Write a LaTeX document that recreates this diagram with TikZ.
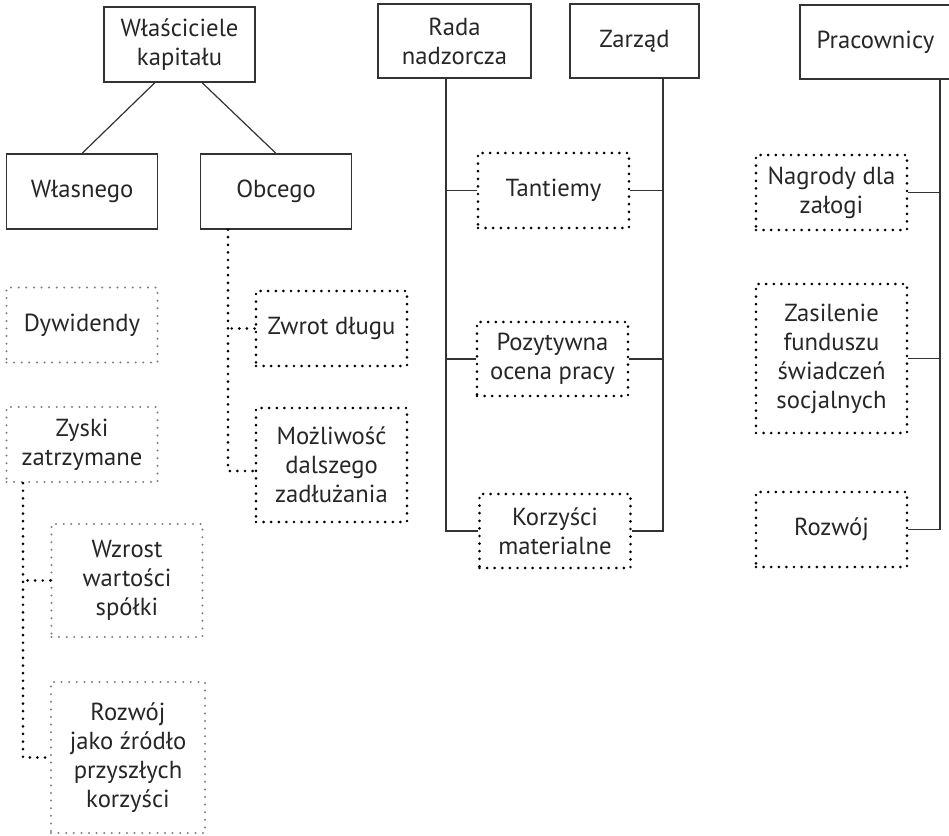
\documentclass[tikz,border=0pt]{standalone}
\usepackage{fontspec}
\setmainfont{PT Sans}
\begin{document}
\begin{tikzpicture}[x=0.75pt,y=-0.75pt,
  every node/.style={font=\fontsize{18.5}{21.7}\selectfont, text=black!85, align=center, inner sep=0pt},
  solidbox/.style={draw=black!80, line width=0.9pt, minimum width=113.25pt, minimum height=56.25pt},
  dotbox/.style={draw=black, line width=2.2pt, dash pattern=on 0pt off 5.7pt, line cap=round,
                 minimum width=113.25pt, minimum height=56.25pt},
  greybox/.style={dotbox, draw=black!50, line width=1.7pt},
  conn/.style={draw=black!80, line width=0.9pt},
  dotconn/.style={draw=black, line width=2.2pt, dash pattern=on 0pt off 5.7pt, line cap=round},
]
\useasboundingbox (0,0) rectangle (949,835);

% owners of capital and the two kinds of capital
\node[solidbox] (wk) at (179.5,44.5) {Właściciele\\kapitału};
\node[solidbox] (wl) at (82,191.5) {Własnego};
\node[solidbox] (ob) at (276,191.5) {Obcego};
\draw[conn] ([xshift=-18.4pt]wk.south) -- (wl.north);
\draw[conn] ([xshift=16.9pt]wk.south) -- (ob.north);

% equity benefits
\node[greybox] (dy) at (82,325) {Dywidendy};
\node[greybox] (zy) at (82,444.5) {Zyski\\zatrzymane};
\node[greybox, minimum height=84.75pt] (wz) at (127,580.5) {Wzrost\\wartości\\spółki};
\node[greybox, minimum width=115.5pt, minimum height=113.25pt] (ro) at (128,757.5) {Rozwój\\jako źródło\\przyszłych\\korzyści};

% debt benefits
\node[dotbox] (zw) at (331.5,328.5) {Zwrot długu};
\node[dotbox, minimum height=85.5pt] (mo) at (331.5,465) {Możliwość\\dalszego\\zadłużania};

% supervisory board and management
\node[solidbox, minimum width=114.75pt, minimum height=55.5pt] (rada) at (454.5,41) {Rada\\nadzorcza};
\node[solidbox, minimum width=96.75pt, minimum height=55.5pt] (zarz) at (634.5,41) {Zarząd};
\node[dotbox] (ta) at (553.5,190.5) {Tantiemy};
\node[dotbox, minimum height=55.5pt] (po) at (552.5,359) {Pozytywna\\ocena pracy};
\node[dotbox, minimum height=55.5pt] (ko) at (555,531) {Korzyści\\materialne};

% employees
\node[solidbox, minimum height=55.5pt] (prac) at (875.5,42) {Pracownicy};
\node[dotbox] (na) at (831.5,192.5) {Nagrody dla\\załogi};
\node[dotbox, minimum height=111.75pt] (za) at (831.5,358.5) {Zasilenie\\funduszu\\świadczeń\\socjalnych};
\node[dotbox] (rz) at (831.5,529.5) {Rozwój};

% trunk lines
\coordinate (ol) at (228,0);
\coordinate (yl) at (23,0);
\coordinate (rl) at (446,0);
\coordinate (zl) at (663,0);
\coordinate (pl) at (940,0);

\draw[dotconn] (ob.south -| ol) -- ([yshift=-4.5pt]mo.west -| ol) -- ([yshift=-4.5pt]mo.west);
\draw[dotconn] (zw.west) -- (zw.west -| ol);

\draw[dotconn] (zy.south -| yl) |- (ro.west);
\draw[dotconn] (wz.west) -- (wz.west -| yl);

\draw[conn] (rada.south -| rl) |- (ko.west);
\draw[conn] (ta.west) -- (ta.west -| rl);
\draw[conn] (po.west) -- (po.west -| rl);

\draw[conn] (zarz.south -| zl) |- (ko.east);
\draw[conn] (ta.east) -- (ta.east -| zl);
\draw[conn] (po.east) -- (po.east -| zl);

\draw[conn] (prac.south -| pl) |- (rz.east);
\draw[conn] (na.east) -- (na.east -| pl);
\draw[conn] (za.east) -- (za.east -| pl);
\end{tikzpicture}
\end{document}
